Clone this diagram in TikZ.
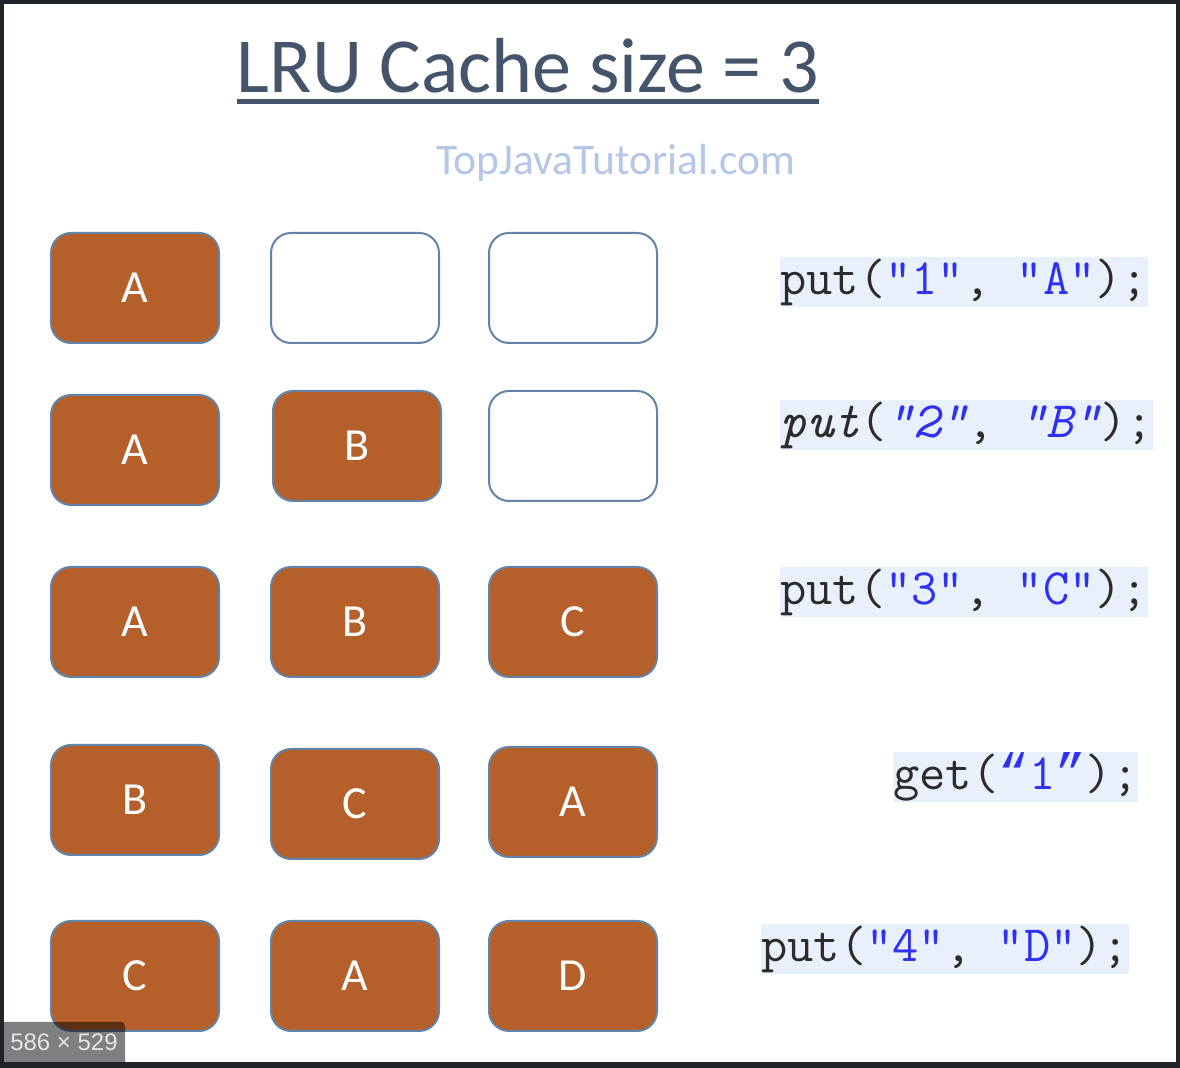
\documentclass[tikz,border=0pt]{standalone}
\usepackage{fontspec}
\setmainfont{Carlito}
\newfontfamily\labelfont{Liberation Sans}
\newfontfamily\quotefont{Liberation Mono}

\definecolor{framedark}{HTML}{202327}
\definecolor{titlegrey}{HTML}{44546A}
\definecolor{watermark}{HTML}{B4C7E7}
\definecolor{cell}{HTML}{B5602A}
\definecolor{cellborder}{HTML}{6483A8}
\definecolor{codebg}{HTML}{E8F0FC}
\definecolor{codestr}{HTML}{3030F0}
\definecolor{codetxt}{HTML}{2B2B2B}

\newcommand{\quoted}[1]{\textcolor{codestr}{#1}}

\tikzset{
  slot/.style={draw=cellborder, line width=1pt, rounded corners=10pt,
    minimum width=84pt, minimum height=55pt, inner sep=0pt},
  full/.style={slot, fill=cell, text=white, font=\fontsize{23}{23}\selectfont},
  free/.style={slot, fill=white},
  call/.style={fill=codebg, inner sep=0pt, minimum height=25pt, anchor=west,
    text=codetxt, font=\ttfamily\fontsize{25.5}{26}\selectfont},
}

\begin{document}
\begin{tikzpicture}[x=0.5pt, y=-0.5pt]
    \useasboundingbox (0,0) rectangle (1180,1068);
    % Frame
    \fill[framedark] (0,0) rectangle (1180,1068);
    \fill[white] (4,4) rectangle (1176,1062);

    % Title
    \node[anchor=base, inner sep=0pt, text=titlegrey, font=\fontsize{39}{39}\selectfont] (title) at (528,93) {LRU Cache size = 3};
    \draw[titlegrey, line width=2.5pt] ([yshift=-4.5pt]title.base west) -- ([yshift=-4.5pt]title.base east);
    \node[anchor=base, inner sep=0pt, text=watermark, font=\fontsize{21.8}{22}\selectfont] (site) at (616,175) {TopJavaTutorial.com};

    % Row 1
    \node[full] (r1c1) at (135,288) {A};
    \node[free] (r1c2) at (355,288) {};
    \node[free] (r1c3) at (573,288) {};

    % Row 2
    \node[full] (r2c1) at (135,450) {A};
    \node[full] (r2c2) at (357,446) {B};
    \node[free] (r2c3) at (573,446) {};

    % Row 3
    \node[full] (r3c1) at (135,622) {A};
    \node[full] (r3c2) at (355,622) {B};
    \node[full] (r3c3) at (573,622) {C};

    % Row 4
    \node[full] (r4c1) at (135,800) {B};
    \node[full] (r4c2) at (355,804) {C};
    \node[full] (r4c3) at (573,802) {A};

    % Row 5
    \node[full] (r5c1) at (135,976) {C};
    \node[full] (r5c2) at (355,976) {A};
    \node[full] (r5c3) at (573,976) {D};

    % Calls
    \node[call] (put1) at (780,282) {put(\quoted{"1"}, \quoted{"A"});};
    \node[call] (put2) at (780,425) {{\itshape put}(\quoted{\itshape"2"}, \quoted{\itshape"B"});};
    \node[call] (put3) at (780,592) {put(\quoted{"3"}, \quoted{"C"});};
    \node[call] (get1) at (893,777) {get(\quoted{{\quotefont“}1{\quotefont”}});};
    \node[call] (put4) at (761,949) {put(\quoted{"4"}, \quoted{"D"});};

    % Size badge
    \fill[black, opacity=0.5] (4,1062) -- (4,1022) [rounded corners=2pt] -- (125,1022) [sharp corners] -- (125,1062) -- cycle;
    \node[text=white!90!black, font=\labelfont\fontsize{12}{12}\selectfont] (dims) at (64,1042) {586 × 529};
\end{tikzpicture}
\end{document}
